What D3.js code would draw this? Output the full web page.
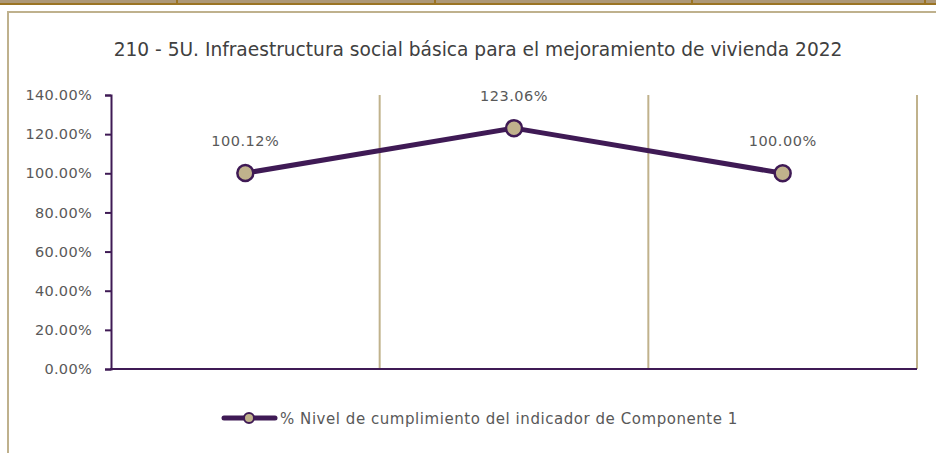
<!DOCTYPE html>
<html>
<head>
<meta charset="utf-8">
<script src="https://cdn.jsdelivr.net/npm/d3@7"></script>
<style>
  html, body { margin: 0; padding: 0; background: #fff; }
  svg { display: block; }
  text { font-family: "DejaVu Sans", "Noto Sans", sans-serif; }
</style>
</head>
<body>
<svg id="chart" width="936" height="453"></svg>
<script>
// Chart data
const title = "210 - 5U. Infraestructura social básica para el mejoramiento de vivienda 2022";
const seriesName = "% Nivel de cumplimiento del indicador de Componente 1";
const categories = ["1", "2", "3"];
const values = [100.12, 123.06, 100.00];
const yTicks = [0, 20, 40, 60, 80, 100, 120, 140];

const purple = "#3f1a55";
const tan = "#c0b28c";
const textColor = "#595959";

const svg = d3.select("#chart");

// page header strip above the chart frame
svg.append("rect").attr("x", 0).attr("y", 0).attr("width", 936).attr("height", 4).attr("fill", "#ad9877");
svg.append("rect").attr("x", 0).attr("y", 3).attr("width", 936).attr("height", 2).attr("fill", "#9b7424");
[176, 434, 691, 924].forEach(x => {
  svg.append("rect").attr("x", x).attr("y", 0).attr("width", 2).attr("height", 4).attr("fill", "#9b7424");
});

// chart frame
svg.append("path")
  .attr("d", "M8,453 V12 H936")
  .attr("fill", "none").attr("stroke", "#bfb18d").attr("stroke-width", 2);

// title
svg.append("text")
  .attr("x", 478).attr("y", 56)
  .attr("text-anchor", "middle")
  .attr("font-size", 18.6)
  .attr("fill", "#404040")
  .text(title);

const plot = { left: 111, right: 917, top: 95, bottom: 369 };

const x = d3.scaleBand().domain(categories).range([plot.left, plot.right]).padding(0);
const y = d3.scaleLinear().domain([0, 140]).range([plot.bottom, plot.top]);

// vertical gridlines at category boundaries
const g = svg.append("g");
categories.forEach(c => {
  const gx = x(c) + x.bandwidth();
  g.append("line")
    .attr("x1", gx).attr("x2", gx)
    .attr("y1", plot.top).attr("y2", plot.bottom)
    .attr("stroke", tan).attr("stroke-width", 2);
});

// y axis
const yAxis = d3.axisLeft(y)
  .tickValues(yTicks)
  .tickFormat(d => d.toFixed(2) + "%")
  .tickSizeOuter(0)
  .tickSize(6)
  .tickPadding(13);
const ya = svg.append("g").attr("transform", `translate(${plot.left},0)`).call(yAxis);
ya.select(".domain").attr("stroke", purple).attr("stroke-width", 2);
ya.selectAll(".tick line").attr("stroke", purple).attr("stroke-width", 2);
ya.selectAll(".tick text")
  .attr("font-family", "DejaVu Sans, sans-serif")
  .attr("font-size", 14.5)
  .attr("letter-spacing", 0.3)
  .attr("fill", textColor);

// x axis baseline
svg.append("line")
  .attr("x1", plot.left - 1).attr("x2", plot.right)
  .attr("y1", y(0)).attr("y2", y(0))
  .attr("stroke", purple).attr("stroke-width", 2);

// series line
const cx = c => x(c) + x.bandwidth() / 2;
const line = d3.line().x((d, i) => cx(categories[i])).y(d => y(d));
svg.append("path")
  .datum(values)
  .attr("d", line)
  .attr("fill", "none")
  .attr("stroke", purple)
  .attr("stroke-width", 5)
  .attr("stroke-linejoin", "round");

// markers
svg.selectAll("circle.pt")
  .data(values)
  .join("circle")
  .attr("class", "pt")
  .attr("cx", (d, i) => cx(categories[i]))
  .attr("cy", d => y(d))
  .attr("r", 8)
  .attr("fill", tan)
  .attr("stroke", purple)
  .attr("stroke-width", 2.5);

// value labels
svg.selectAll("text.lbl")
  .data(values)
  .join("text")
  .attr("class", "lbl")
  .attr("x", (d, i) => cx(categories[i]))
  .attr("y", d => y(d) - 27)
  .attr("text-anchor", "middle")
  .attr("font-size", 14.5)
  .attr("letter-spacing", 0.5)
  .attr("fill", textColor)
  .text(d => d.toFixed(2) + "%");

// legend
const ly = 418;
svg.append("line")
  .attr("x1", 224).attr("x2", 275).attr("y1", ly).attr("y2", ly)
  .attr("stroke", purple).attr("stroke-width", 5).attr("stroke-linecap", "round");
svg.append("circle")
  .attr("cx", 249).attr("cy", ly).attr("r", 5)
  .attr("fill", tan).attr("stroke", purple).attr("stroke-width", 2);
svg.append("text")
  .attr("x", 280).attr("y", ly + 5.5)
  .attr("font-size", 15)
  .attr("letter-spacing", 0.55)
  .attr("fill", textColor)
  .text(seriesName);
</script>
</body>
</html>
